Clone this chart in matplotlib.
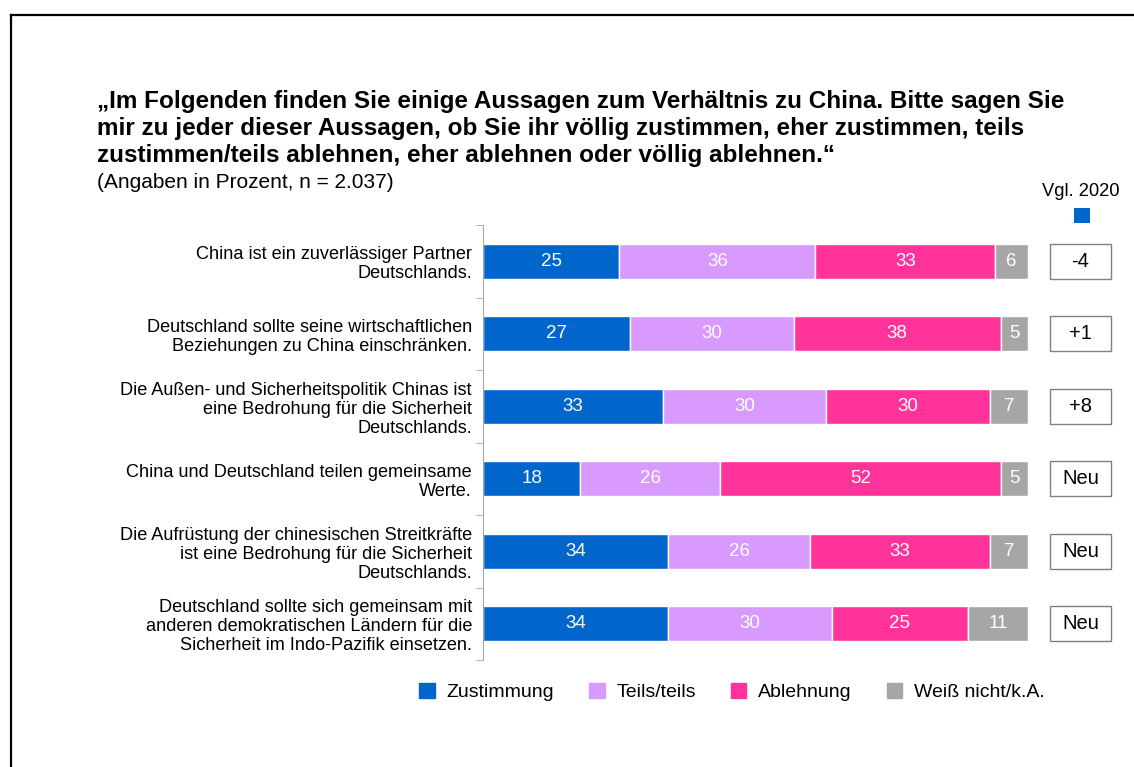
import numpy as np
import matplotlib
matplotlib.use("Agg")
import matplotlib.pyplot as plt
from matplotlib.lines import Line2D
from matplotlib.patches import Rectangle

plt.rcParams['font.family'] = ['Liberation Sans', 'DejaVu Sans']

categories = [
    "China ist ein zuverlässiger Partner\nDeutschlands.",
    "Deutschland sollte seine wirtschaftlichen\nBeziehungen zu China einschränken.",
    "Die Außen- und Sicherheitspolitik Chinas ist\neine Bedrohung für die Sicherheit\nDeutschlands.",
    "China und Deutschland teilen gemeinsame\nWerte.",
    "Die Aufrüstung der chinesischen Streitkräfte\nist eine Bedrohung für die Sicherheit\nDeutschlands.",
    "Deutschland sollte sich gemeinsam mit\nanderen demokratischen Ländern für die\nSicherheit im Indo-Pazifik einsetzen.",
]
zustimmung = [25, 27, 33, 18, 34, 34]
teils = [36, 30, 30, 26, 26, 30]
ablehnung = [33, 38, 30, 52, 33, 25]
weiss_nicht = [6, 5, 7, 5, 7, 11]
vgl_2020 = ["-4", "+1", "+8", "Neu", "Neu", "Neu"]

series_names = ["Zustimmung", "Teils/teils", "Ablehnung", "Weiß nicht/k.A."]
colors = ["#0066CC", "#D99AFF", "#FF3399", "#A6A6A6"]

W, H = 1134, 767
fig = plt.figure(figsize=(W / 100, H / 100), dpi=100)

# frame around the slide (cut off at right/bottom)
fig.add_artist(Line2D([10.5 / W, 10.5 / W], [0, 1 - 14.5 / H], color="black", lw=1.6))
fig.add_artist(Line2D([10.5 / W, 1], [1 - 14.5 / H, 1 - 14.5 / H], color="black", lw=1.6))

# title
fig.text(97 / W, 1 - 90 / H,
         "„Im Folgenden finden Sie einige Aussagen zum Verhältnis zu China. Bitte sagen Sie\n"
         "mir zu jeder dieser Aussagen, ob Sie ihr völlig zustimmen, eher zustimmen, teils\n"
         "zustimmen/teils ablehnen, eher ablehnen oder völlig ablehnen.“",
         fontsize=17.5, fontweight="bold", va="top", ha="left", linespacing=1.22)
fig.text(97 / W, 1 - 183 / H, "(Angaben in Prozent, n = 2.037)", fontsize=15,
         va="center", ha="left")

ax = fig.add_axes([483 / W, 1 - 660 / H, 545 / W, 435 / H])
ax.set_xlim(0, 100)
ax.set_ylim(len(categories) - 0.5, -0.5)

# 100% stacked: each row scaled to its own total
data = np.array([zustimmung, teils, ablehnung, weiss_nicht], dtype=float)
totals = data.sum(axis=0)

y = np.arange(len(categories))
left = np.zeros(len(categories))
bar_h = 0.48
for vals, col, name in zip(data, colors, series_names):
    widths = vals / totals * 100
    ax.barh(y, widths, left=left, height=bar_h, color=col, edgecolor="white", linewidth=1, label=name)
    for yi, l, w, v in zip(y, left, widths, vals):
        ax.text(l + w / 2, yi, f"{int(v)}", ha="center", va="center", color="white", fontsize=13.5)
    left += widths

# comparison boxes
for yi, txt in zip(y, vgl_2020):
    ax.add_patch(Rectangle((104.0, yi - bar_h / 2), 11.2, bar_h, facecolor="white",
                           edgecolor="#808080", linewidth=1, clip_on=False))
    ax.text(109.6, yi, txt, ha="center", va="center", fontsize=14.5, clip_on=False)

fig.text(1081 / W, 1 - 191 / H, "Vgl. 2020", fontsize=13.2, ha="center", va="center")
fig.add_artist(Rectangle((1074 / W, 1 - 223 / H), 16 / W, 15 / H, transform=fig.transFigure,
                         facecolor="#0066CC", edgecolor="none"))

# axes styling
for s in ["top", "right", "bottom"]:
    ax.spines[s].set_visible(False)
ax.spines["left"].set_color("#A6A6A6")
ax.set_xticks([])
ax.set_yticks(y)
ax.set_yticklabels(categories, fontsize=13.1, linespacing=1.15)
ax.tick_params(axis="y", which="major", length=0, pad=8)
ax.set_yticks(np.arange(-0.5, len(categories)), minor=True)
ax.tick_params(axis="y", which="minor", length=5, color="#A6A6A6")

handles = [Rectangle((0, 0), 1, 1, color=c) for c in colors]
fig.legend(handles, series_names, loc="center", bbox_to_anchor=(732 / W, 1 - 692 / H),
           ncol=4, frameon=False, fontsize=14, handlelength=0.8, handleheight=0.8,
           handletextpad=0.6, columnspacing=1.8)

fig.savefig("out.png", dpi=100)
